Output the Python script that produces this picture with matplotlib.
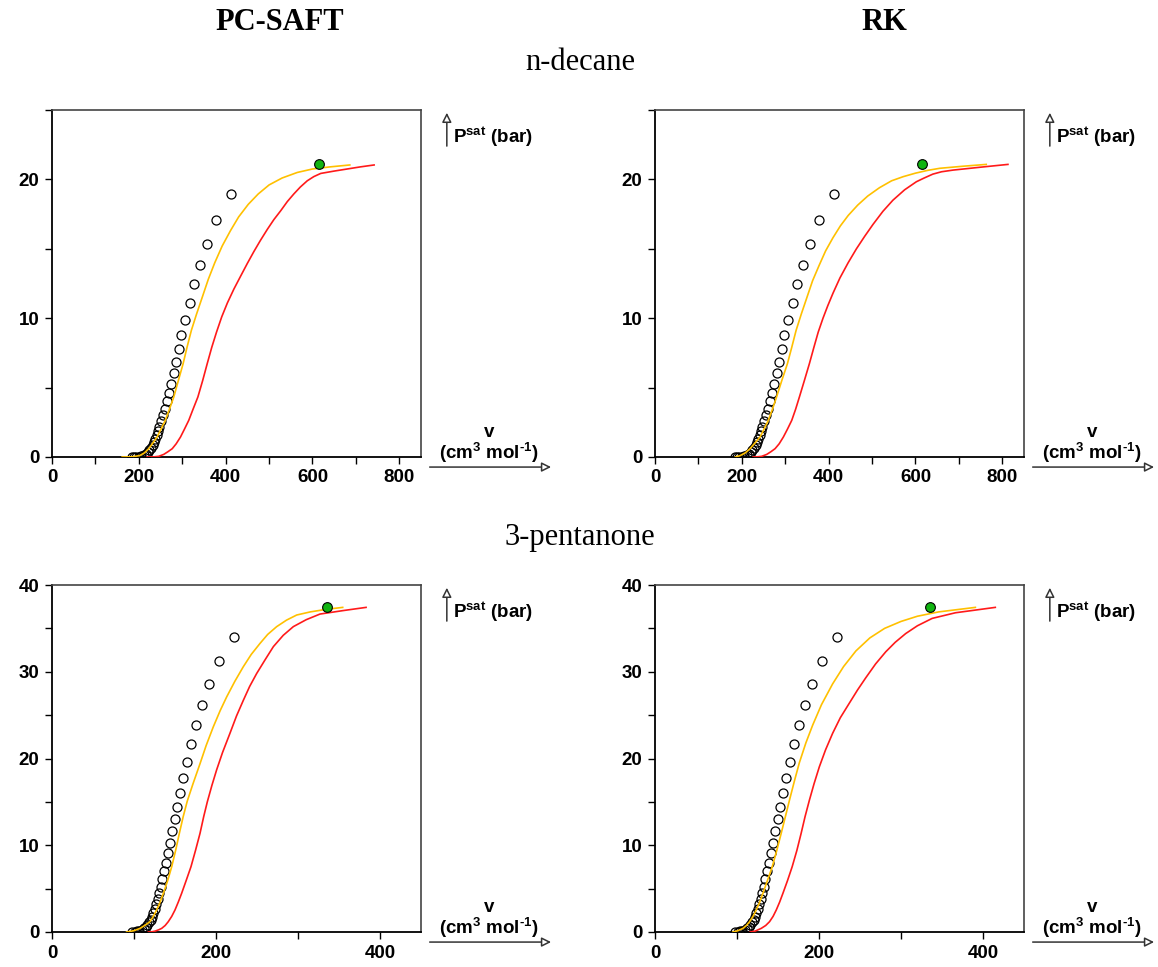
import matplotlib.pyplot as plt
from matplotlib.ticker import MultipleLocator, FuncFormatter

# ---- n-decane: experimental saturated liquid volume vs Psat ----
dec_exp_v = [184, 188, 194, 200, 206, 211, 216, 220.5, 224.5, 228, 232, 235, 238, 241.5,
             244.5, 247.5, 251, 255, 260, 264, 269, 274.5, 280, 286, 292, 298, 307, 317,
             327, 340, 356, 378, 412]
dec_exp_p = [0.0, 0.0, 0.01, 0.02, 0.05, 0.12, 0.22, 0.34, 0.48, 0.65, 0.84, 1.06, 1.29, 1.56,
             1.85, 2.16, 2.57, 3.0, 3.48, 4.0, 4.6, 5.28, 6.04, 6.88, 7.8, 8.78, 9.9, 11.11,
             12.43, 13.85, 15.38, 17.09, 18.92]
dec_crit = (616, 21.08)

# PC-SAFT, n-decane
dec_pc_yel_v = [161.5, 185, 202, 213, 223, 232, 242, 251, 261, 270, 280.5, 291, 302, 311, 321, 333,
                346, 360, 375, 392, 411, 430, 452, 475, 500, 530, 565, 600, 640, 686]
dec_pc_yel_p = [0, 0.02, 0.1, 0.3, 0.6, 1.0, 1.44, 2.0, 2.64, 3.4, 4.32, 5.5, 6.72, 7.9, 9.12, 10.3,
                11.5, 12.8, 14.0, 15.2, 16.3, 17.3, 18.2, 18.95, 19.6, 20.1, 20.5, 20.75, 20.9, 21.04]
dec_pc_red_v = [219, 235, 246, 257.5, 267, 277, 286, 296, 305, 315, 325, 336, 347, 357.5, 368, 379,
                391, 404, 419, 434, 450, 465, 480, 496, 511, 527, 542, 557, 572, 588, 603, 619,
                650, 680, 710, 742]
dec_pc_red_p = [0, 0.01, 0.05, 0.19, 0.38, 0.6, 0.95, 1.44, 2.0, 2.64, 3.45, 4.32, 5.5, 6.72, 7.9, 9.0,
                10.1, 11.1, 12.1, 13.0, 13.95, 14.8, 15.6, 16.4, 17.1, 17.75, 18.4, 18.95, 19.45, 19.9, 20.2, 20.43,
                20.6, 20.75, 20.9, 21.04]

# RK, n-decane
dec_rk_yel_v = [185, 196, 208, 219, 230, 242, 251, 261, 270, 280, 292, 305, 315, 325, 337, 350, 363,
                378, 393, 410, 427, 445, 467, 490, 517, 545, 572, 600, 628, 656, 710, 763]
dec_rk_yel_p = [0, 0.1, 0.3, 0.6, 1.0, 1.44, 2.0, 2.64, 3.4, 4.32, 5.5, 6.72, 7.9, 9.12, 10.3, 11.5, 12.7,
                13.8, 14.85, 15.8, 16.65, 17.4, 18.15, 18.8, 19.4, 19.9, 20.2, 20.45, 20.65, 20.8, 20.95, 21.08]
dec_rk_red_v = [226, 238, 246, 257.5, 267, 276.6, 286, 295.7, 305, 315, 324, 332.6, 344, 355.6, 366, 376,
                387, 398, 410, 426, 445, 464, 483, 502, 525, 548, 575, 602, 620, 640, 660, 686.5, 750, 813]
dec_rk_red_p = [0, 0.02, 0.05, 0.19, 0.38, 0.6, 0.95, 1.44, 2.0, 2.64, 3.45, 4.32, 5.5, 6.72, 7.9, 9.0,
                10.0, 10.9, 11.8, 12.9, 14.0, 15.0, 15.9, 16.75, 17.7, 18.5, 19.25, 19.83, 20.1, 20.38, 20.55, 20.67, 20.88, 21.08]

# ---- 3-pentanone ----
pen_exp_v = [98, 100.8, 103.7, 106.5, 109.4, 111.8, 114.3, 116.3, 118.3, 120.4, 122, 123.5, 125.2,
             126.8, 128.9, 130.5, 132.5, 134.5, 136.6, 139.4, 141.5, 143.9, 146.7, 150, 152.6,
             156.1, 160.2, 164.2, 169.5, 175.2, 182.5, 191.5, 203.3, 221.5]
pen_exp_p = [0, 0.03, 0.08, 0.15, 0.27, 0.43, 0.61, 0.84, 1.12, 1.42, 1.76, 2.19, 2.65,
             3.19, 3.77, 4.46, 5.22, 6.07, 7.03, 7.99, 9.14, 10.3, 11.64, 13.0, 14.43,
             16.04, 17.77, 19.65, 21.7, 23.85, 26.15, 28.6, 31.27, 34.04]
pen_crit = (335, 37.42)

pen_pc_yel_v = [91, 100, 107.3, 113, 119.5, 123.5, 127.6, 131.7, 135.8, 141, 146, 151, 155.3, 160, 165,
                172, 180.5, 188, 196.7, 205, 213, 223, 233.3, 243, 253.7, 263, 274, 286, 298.4, 315, 335, 354.5]
pen_pc_yel_p = [0, 0.15, 0.42, 0.75, 1.19, 1.8, 2.54, 3.4, 4.46, 5.9, 7.53, 9.5, 11.37, 13.3, 15.1,
                17.1, 19.4, 21.5, 23.65, 25.5, 27.1, 28.9, 30.58, 32.0, 33.27, 34.3, 35.2, 35.95, 36.54, 36.9, 37.2, 37.42]
pen_pc_red_v = [117.5, 122, 125.7, 130, 133.8, 138, 141.8, 146, 150, 154, 158.1, 163.5, 169.5, 175, 180.5,
                185, 189.4, 195, 200.8, 208, 217, 225, 233.3, 241, 249.6, 260, 270, 282, 294.3, 310, 326.8, 355, 383]
pen_pc_red_p = [0, 0.03, 0.1, 0.25, 0.42, 0.75, 1.19, 1.8, 2.54, 3.45, 4.46, 5.9, 7.53, 9.4, 11.37,
                13.3, 15.0, 16.9, 18.7, 20.7, 22.9, 24.9, 26.7, 28.3, 29.8, 31.4, 32.9, 34.2, 35.2, 36.0, 36.65, 37.05, 37.42]

pen_rk_yel_v = [95, 101, 107.3, 111.5, 115.4, 119.5, 123.5, 127.5, 131.6, 137, 143, 148.5, 153.9, 159, 164,
                170, 176, 184, 192.3, 203, 216.6, 230, 245, 262, 280, 300, 320, 346, 390.7]
pen_rk_yel_p = [0, 0.15, 0.42, 0.75, 1.19, 1.8, 2.54, 3.4, 4.46, 5.9, 7.53, 9.4, 11.37, 13.3, 15.2,
                17.4, 19.5, 21.8, 23.85, 26.2, 28.6, 30.6, 32.4, 33.9, 35.0, 35.8, 36.4, 36.9, 37.42]
pen_rk_red_v = [116, 122, 129.6, 135, 139.7, 144, 147.9, 152, 156, 161.5, 167.3, 173, 178.2, 183, 188.3,
                194, 200.4, 208, 216.6, 226, 236.8, 247, 257, 269, 281.4, 293, 305.7, 320, 338, 366.4, 390, 415]
pen_rk_red_p = [0, 0.1, 0.42, 0.75, 1.19, 1.8, 2.54, 3.45, 4.46, 5.9, 7.53, 9.4, 11.37, 13.3, 15.2,
                17.1, 19.04, 21.0, 22.9, 24.7, 26.35, 27.9, 29.3, 30.9, 32.3, 33.4, 34.4, 35.3, 36.15, 36.8, 37.1, 37.42]

col_titles = ["PC-SAFT", "RK"]
row_titles = ["n-decane", "3-pentanone"]

plt.rcParams['font.family'] = ['Liberation Sans', 'DejaVu Sans']
plt.rcParams['mathtext.fontset'] = 'custom'
plt.rcParams['mathtext.rm'] = 'Liberation Sans:bold'
plt.rcParams['mathtext.bf'] = 'Liberation Sans:bold'
plt.rcParams['mathtext.it'] = 'Liberation Sans:bold'

YELLOW = '#ffc000'
RED = '#ff1a1a'
GREEN = '#11b411'

fig = plt.figure(figsize=(11.58, 9.67), dpi=100)
W, H = 1158, 967


def panel(left_px, top_px, exp_v, exp_p, crit, yv, yp, rv, rp, xmax, ymax):
    w, h = 369, 347
    ax = fig.add_axes([left_px / W, 1 - (top_px + h) / H, w / W, h / H])
    ax.plot(exp_v, exp_p, 'o', ms=6.5, mfc='none', mec='black', mew=0.9, zorder=2)
    ax.plot(yv, yp, color=YELLOW, lw=1.2, zorder=3)
    ax.plot(rv, rp, color=RED, lw=1.2, zorder=3)
    ax.plot([crit[0]], [crit[1]], 'o', ms=7, mfc=GREEN, mec='black', mew=0.8, zorder=4)
    ax.set_xlim(0, xmax)
    ax.set_ylim(0, ymax)
    ax.xaxis.set_major_locator(MultipleLocator(100))
    ax.yaxis.set_major_locator(MultipleLocator(5))
    ax.xaxis.set_major_formatter(FuncFormatter(lambda v, p: f"{v:.0f}" if round(v) % 200 == 0 else ""))
    ax.yaxis.set_major_formatter(FuncFormatter(lambda v, p: f"{v:.0f}" if round(v) % 10 == 0 else ""))
    ax.tick_params(direction='out', length=5, width=1, labelsize=13.5, pad=4)
    for lab in ax.get_xticklabels() + ax.get_yticklabels():
        lab.set_fontweight('bold')
    for s in ['left', 'bottom']:
        ax.spines[s].set_linewidth(1.3)
        ax.spines[s].set_color('black')
    for s in ['top', 'right']:
        ax.spines[s].set_linewidth(1.2)
        ax.spines[s].set_color('#444444')

    # axis arrows and labels outside the frame
    arrow = dict(arrowstyle='-|>', fc='white', ec='#333333', lw=1.1, mutation_scale=14)
    ax.annotate('', xy=(1.070, 1.0), xytext=(1.070, 0.888), xycoords='axes fraction',
                arrowprops=arrow, annotation_clip=False)
    ax.annotate('', xy=(1.36, -0.029), xytext=(1.016, -0.029), xycoords='axes fraction',
                arrowprops=arrow, annotation_clip=False)
    ax.text(1.087, 0.922, r'P$^{\mathrm{sat}}$ (bar)', transform=ax.transAxes,
            fontsize=13.5, fontweight='bold', ha='left', va='center')
    ax.text(1.184, 0.072, 'v', transform=ax.transAxes,
            fontsize=13.5, fontweight='bold', ha='center', va='center')
    ax.text(1.184, 0.012, r'(cm$^{\mathrm{3}}$ mol$^{\text{-1}}$)', transform=ax.transAxes,
            fontsize=13.5, fontweight='bold', ha='center', va='center')
    return ax


panel(52, 110, dec_exp_v, dec_exp_p, dec_crit, dec_pc_yel_v, dec_pc_yel_p, dec_pc_red_v, dec_pc_red_p, 850, 25)
panel(655, 110, dec_exp_v, dec_exp_p, dec_crit, dec_rk_yel_v, dec_rk_yel_p, dec_rk_red_v, dec_rk_red_p, 850, 25)
panel(52, 585, pen_exp_v, pen_exp_p, pen_crit, pen_pc_yel_v, pen_pc_yel_p, pen_pc_red_v, pen_pc_red_p, 450, 40)
panel(655, 585, pen_exp_v, pen_exp_p, pen_crit, pen_rk_yel_v, pen_rk_yel_p, pen_rk_red_v, pen_rk_red_p, 450, 40)

serif = ['Liberation Serif', 'DejaVu Serif']
fig.text(280 / W, 1 - 22 / H, col_titles[0], family=serif, fontsize=22, fontweight='bold', ha='center', va='center')
fig.text(884 / W, 1 - 22 / H, col_titles[1], family=serif, fontsize=22, fontweight='bold', ha='center', va='center')
fig.text(580 / W, 1 - 62 / H, row_titles[0], family=serif, fontsize=22, ha='center', va='center')
fig.text(580 / W, 1 - 537 / H, row_titles[1], family=serif, fontsize=22, ha='center', va='center')

fig.savefig('out.png', dpi=100)
